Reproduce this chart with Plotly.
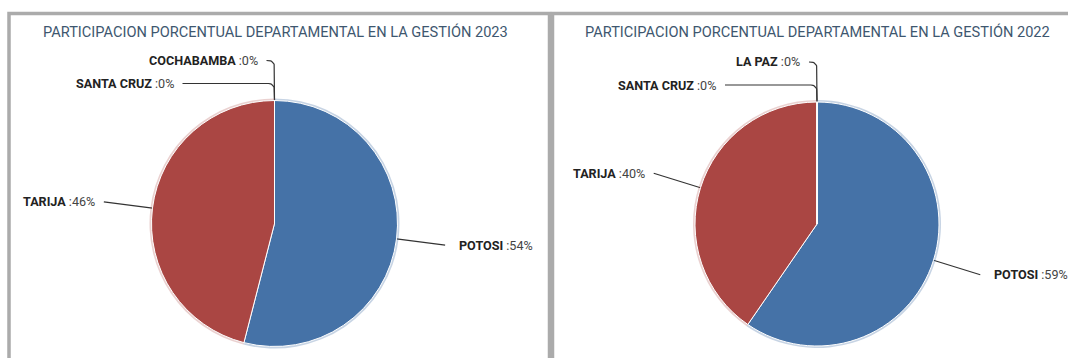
import math
import plotly.graph_objects as go

W, H = 1068, 358

# Departmental share, management year 2023
LABELS_2023 = ["POTOSI", "TARIJA", "SANTA CRUZ", "COCHABAMBA"]
VALUES_2023 = [54, 46, 0, 0]
TITLE_2023 = "PARTICIPACION PORCENTUAL DEPARTAMENTAL EN LA GESTIÓN 2023"

# Departmental share, management year 2022
LABELS_2022 = ["POTOSI", "TARIJA", "SANTA CRUZ", "LA PAZ"]
VALUES_2022 = [59, 40, 0, 0]
TITLE_2022 = "PARTICIPACION PORCENTUAL DEPARTAMENTAL EN LA GESTIÓN 2022"

SLICE_COLORS = ["#4572A7", "#AA4643", "#89A54E", "#80699B"]
HALO_COLORS = ["rgba(69,114,167,0.30)", "rgba(170,70,67,0.25)",
               "rgba(137,165,78,0.3)", "rgba(128,105,155,0.3)"]

TITLE_COLOR = "#3E576F"
LABEL_COLOR = "#222222"
VALUE_COLOR = "#444444"
FRAME_COLOR = "#ababab"
FONT = "Roboto, Arial, sans-serif"

# panel layout in pixels: pie centre, radius, frame box
PANELS = [
    dict(labels=LABELS_2023, values=VALUES_2023, title=TITLE_2023,
         cx=274.5, cy=223.5, r=123, frame=(9, 549.5)),
    dict(labels=LABELS_2022, values=VALUES_2022, title=TITLE_2022,
         cx=817.0, cy=224.0, r=122, frame=(552.5, 1090)),
]

CONNECTOR_LEN = 49           # radial leader length for regular slices
LEFT_GAP, RIGHT_GAP = 7, 12  # gap between leader end and label text
# stacked rows for labels of empty slices sitting at the 12 o'clock point
ZERO_ROWS = [dict(rise=17, reach=92), dict(rise=40, reach=8)]


def px(x):
    return x / W


def py(y):
    return 1 - y / H


fig = go.Figure()
annotations = []
shapes = []

for p in PANELS:
    cx, cy, r = p["cx"], p["cy"], p["r"]
    labels, values = p["labels"], p["values"]
    n = len(values)

    # soft outer rim behind the pie
    rh = r + 2
    fig.add_trace(go.Pie(
        labels=labels, values=values, sort=False, direction="clockwise",
        rotation=0, textinfo="none", hoverinfo="skip", showlegend=False,
        marker=dict(colors=HALO_COLORS[:n], line=dict(width=0)),
        domain=dict(x=[px(cx - rh), px(cx + rh)], y=[py(cy + rh), py(cy - rh)]),
    ))
    fig.add_trace(go.Pie(
        labels=labels, values=values, sort=False, direction="clockwise",
        rotation=0, textinfo="none", showlegend=False,
        hovertemplate="<b>%{label}</b>: %{value}%<extra></extra>",
        marker=dict(colors=SLICE_COLORS[:n], line=dict(color="white", width=1)),
        domain=dict(x=[px(cx - r), px(cx + r)], y=[py(cy + r), py(cy - r)]),
    ))

    # title
    annotations.append(dict(
        text=p["title"], x=px(cx + 0.5), y=py(31.5), xref="paper", yref="paper",
        xanchor="center", yanchor="middle", showarrow=False,
        font=dict(family=FONT, size=14.6, color=TITLE_COLOR),
    ))

    # data labels with leader lines
    total = sum(values)
    cum = 0.0
    zero_idx = 0
    for name, v in zip(labels, values):
        start = cum
        cum += v
        text = (f"<b>{name}</b> "
                f"<span style='font-weight:normal;color:{VALUE_COLOR}'>:{v}%</span>")
        if v > 0:
            mid = math.radians((start + v / 2) / total * 360)
            dx, dy = math.sin(mid), -math.cos(mid)
            ex, ey = cx + r * dx, cy + r * dy
            lx, ly = ex + CONNECTOR_LEN * dx, ey + CONNECTOR_LEN * dy
            xs, ys = [ex, lx], [ey, ly]
            right = dx >= 0
            tx = lx + RIGHT_GAP if right else lx - LEFT_GAP
        else:
            row = ZERO_ROWS[min(zero_idx, len(ZERO_ROWS) - 1)]
            zero_idx += 1
            top = cy - r
            ly = top - row["rise"]
            rad = 6
            xs, ys = [cx], [top]
            for k in range(0, 10):
                a = math.radians(k * 10)
                xs.append(cx - rad + rad * math.cos(a))
                ys.append(ly + rad - rad * math.sin(a))
            xs.append(cx - row["reach"])
            ys.append(ly)
            lx = cx - row["reach"]
            right = False
            tx = lx - LEFT_GAP
        fig.add_trace(go.Scatter(
            x=xs, y=ys, mode="lines", hoverinfo="skip", showlegend=False,
            line=dict(color="#333333", width=1.2),
        ))
        annotations.append(dict(
            text=text, x=px(tx), y=py(ly), xref="paper", yref="paper",
            xanchor="left" if right else "right", yanchor="middle",
            showarrow=False, font=dict(family=FONT, size=12.6, color=LABEL_COLOR),
        ))

    # panel frame
    x0, x1 = p["frame"]
    shapes.append(dict(
        type="rect", xref="paper", yref="paper",
        x0=px(x0), x1=px(x1), y0=py(H + 20), y1=py(13.5),
        line=dict(color=FRAME_COLOR, width=3.5), fillcolor="rgba(0,0,0,0)",
        layer="below",
    ))

fig.update_layout(
    width=W, height=H,
    margin=dict(l=0, r=0, t=0, b=0),
    paper_bgcolor="white", plot_bgcolor="white",
    xaxis=dict(range=[0, W], visible=False, fixedrange=True),
    yaxis=dict(range=[H, 0], visible=False, fixedrange=True),
    annotations=annotations,
    shapes=shapes,
)

fig.write_html("out.html")
